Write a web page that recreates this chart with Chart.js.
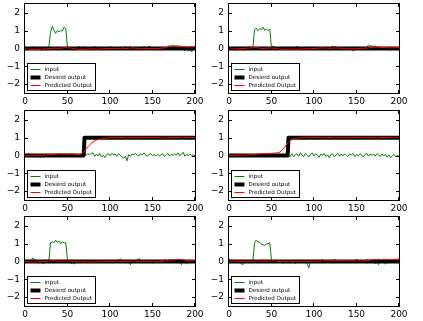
<!DOCTYPE html>
<html><head><meta charset="utf-8">
<script src="https://cdn.jsdelivr.net/npm/chart.js@4/dist/chart.umd.min.js"></script>
<style>
html,body{margin:0;padding:0;background:#fff;width:423px;height:321px;overflow:hidden;}
canvas{position:absolute;}
</style></head><body>
<canvas id="c0"></canvas><canvas id="c1"></canvas><canvas id="c2"></canvas>
<canvas id="c3"></canvas><canvas id="c4"></canvas><canvas id="c5"></canvas>
<script>
// ---------- tick labels ----------
const xTicks = [0, 50, 100, 150, 200];
const xTickLabels = ['0', '50', '100', '150', '200'];
const yTicks = [-2, -1, 0, 1, 2];
const yTickLabels = ['\u22122', '\u22121', '0', '1', '2'];
const seriesLabels = ['input', 'Desierd output', 'Predicted Output'];

// ---------- sample positions ----------
const inputStep = 2;   // input series sampled every 2 time steps (0..200)
const predStep = 5;    // predicted series sampled every 5 time steps (0..200)
const desiredX = [0, 69, 70, 200];

// ---------- desired outputs ----------
const desiredZero = [0, 0, 0, 0];
const desiredStep = [0, 0, 1, 1];

// ---------- inputs ----------
const input1 = [0.05,-0.05,0.02,-0.08,0.03,0.12,-0.04,-0.10,0.02,-0.06,
 -0.12,0.04,-0.03,-0.10,0.06,0.90,1.25,1.05,0.85,1.00,
 0.95,1.00,0.98,1.20,1.10,0.02,-0.05,0.04,-0.03,0.00,
 0.05,-0.06,0.14,-0.02,0.03,0.13,-0.04,0.02,-0.07,0.05,
 -0.02,0.14,0.00,0.06,-0.05,0.03,-0.08,0.04,0.01,-0.04,
 0.12,-0.03,0.05,-0.06,0.02,-0.02,0.07,-0.05,0.03,0.13,
 -0.04,0.02,0.14,-0.06,0.04,-0.02,0.05,-0.07,0.03,0.00,
 0.13,-0.05,0.04,0.15,-0.03,0.02,-0.06,0.05,-0.02,0.04,
 -0.04,0.06,0.00,0.05,0.10,0.18,0.12,0.20,0.08,0.15,
 0.05,0.10,-0.08,0.06,-0.12,0.03,-0.15,-0.05,-0.20,0.02,-0.10];
const input2 = [-0.08,0.03,-0.10,0.02,-0.12,0.12,-0.05,0.02,-0.10,0.04,
 -0.06,0.00,0.13,-0.04,0.02,1.05,1.15,1.00,1.12,1.05,
 1.20,1.02,1.10,1.00,1.08,0.03,0.15,-0.05,0.02,-0.03,
 0.04,-0.06,0.02,0.05,-0.04,0.01,-0.07,0.03,-0.02,0.00,
 0.14,-0.05,0.03,-0.08,0.02,0.06,-0.04,0.10,-0.03,0.02,
 -0.06,0.04,0.00,-0.03,0.05,-0.05,0.02,0.04,-0.02,0.01,
 0.06,0.14,0.08,0.12,-0.04,0.03,-0.07,0.02,0.05,-0.03,
 0.00,-0.06,0.04,-0.15,0.12,-0.02,0.03,-0.05,0.02,0.06,
 -0.03,0.05,0.20,0.12,0.18,0.08,0.15,0.04,0.10,-0.02,
 0.05,-0.04,0.08,0.00,0.04,-0.03,0.06,0.02,-0.01,0.03,0.00];
const input3 = [0.02,0.03,0.12,-0.05,0.04,-0.08,0.03,-0.10,-0.02,-0.12,
 0.02,-0.09,-0.04,0.05,-0.03,0.06,-0.02,0.08,0.00,-0.04,
 0.07,0.02,-0.05,0.04,0.09,0.01,-0.03,0.05,0.02,0.00,
 -0.02,0.04,0.06,-0.03,0.05,0.08,0.02,0.10,0.05,0.12,
 0.15,-0.05,0.08,-0.03,0.12,-0.08,0.02,-0.12,0.05,0.10,
 -0.02,0.12,0.04,0.08,-0.05,0.10,0.02,-0.08,-0.15,-0.04,
 -0.30,0.05,-0.05,0.08,0.03,0.12,0.02,-0.03,0.10,0.04,
 0.15,0.02,-0.03,0.06,0.10,0.00,0.05,-0.02,0.08,-0.04,
 0.04,0.10,-0.06,0.02,0.12,-0.03,0.06,0.00,0.08,0.02,
 0.15,-0.02,0.06,0.18,-0.04,0.05,0.00,0.08,-0.02,0.04,-0.02];
const input4 = [0.05,-0.03,0.08,-0.06,0.02,-0.04,0.06,0.00,-0.05,0.03,
 -0.02,0.05,-0.04,0.07,0.01,-0.03,0.04,0.08,-0.02,0.05,
 0.03,-0.04,0.06,0.02,0.09,0.00,-0.05,0.04,0.02,0.06,
 -0.03,0.05,0.02,-0.04,0.08,0.03,-0.06,0.10,-0.08,0.04,
 0.10,-0.05,0.15,0.02,-0.06,0.12,0.03,-0.08,0.06,0.14,
 -0.04,0.10,0.02,-0.10,0.08,0.00,0.12,-0.06,0.04,-0.12,
 0.06,0.10,-0.08,0.03,0.12,-0.05,0.08,-0.02,0.10,0.00,
 -0.05,0.08,0.03,0.12,-0.06,0.05,-0.02,0.10,0.02,-0.08,
 0.06,0.12,-0.04,0.08,0.02,0.05,-0.03,0.10,0.04,-0.06,
 0.08,-0.02,0.05,-0.10,0.04,-0.12,-0.03,0.06,-0.08,0.02,-0.04];
const input5 = [0.05,-0.03,0.08,0.02,0.15,0.20,-0.05,0.03,-0.10,0.02,
 -0.08,-0.12,0.04,-0.06,0.00,1.05,1.10,1.05,1.20,1.08,
 1.15,1.00,1.10,1.05,1.05,0.05,-0.02,-0.12,-0.05,-0.15,
 0.02,-0.08,0.04,-0.03,0.06,-0.05,0.02,-0.10,0.03,0.00,
 0.05,-0.04,0.02,-0.06,0.03,0.05,-0.08,0.02,-0.03,0.04,
 -0.02,0.03,0.06,-0.05,0.02,0.04,0.15,0.08,-0.03,0.02,
 -0.05,0.03,-0.18,0.02,0.05,-0.04,0.08,0.18,0.02,-0.06,
 0.03,-0.05,0.06,-0.03,0.04,-0.10,0.05,0.00,-0.06,0.03,
 0.02,-0.04,0.05,0.10,0.06,0.12,0.08,0.03,-0.06,0.05,
 -0.10,0.04,-0.18,0.02,0.06,-0.15,0.03,-0.04,0.05,-0.02,0.02];
const input6 = [0.15,0.05,-0.03,0.04,-0.08,0.02,0.06,-0.05,-0.20,0.02,
 -0.06,0.03,-0.04,0.02,-0.02,1.05,1.20,1.10,1.08,0.98,
 0.95,0.90,0.98,1.00,1.05,0.05,0.02,0.08,-0.04,0.03,
 -0.08,0.02,-0.12,0.05,-0.06,0.00,-0.10,0.04,-0.05,-0.12,
 0.03,-0.08,0.06,-0.02,-0.05,0.04,-0.15,-0.35,0.08,-0.04,
 0.03,-0.06,0.05,-0.02,0.04,0.12,-0.03,0.06,-0.05,0.02,
 0.08,-0.02,0.14,0.03,-0.06,0.05,0.00,0.08,-0.04,0.02,
 0.06,-0.03,0.04,-0.05,0.02,0.13,0.05,-0.04,0.03,0.06,
 -0.02,0.14,0.04,-0.08,0.06,0.02,-0.12,-0.04,-0.18,0.03,
 -0.06,0.05,-0.15,0.02,0.08,-0.03,0.04,-0.05,0.02,0.06,0.00];

// ---------- predicted outputs ----------
const pred1 = [-0.02,-0.04,-0.05,-0.06,-0.04,-0.02,0.00,0.02,0.01,0.03,
 0.05,0.01,-0.03,-0.05,-0.04,-0.03,-0.02,-0.04,-0.02,0.00,
 -0.01,0.01,-0.01,0.02,0.00,0.03,0.02,0.00,0.01,-0.01,
 0.00,0.00,0.02,0.05,0.10,0.15,0.14,0.12,0.08,0.09,0.10];
const pred2 = [-0.03,-0.02,-0.01,0.00,0.01,0.03,0.05,0.03,0.00,0.02,
 0.03,-0.01,-0.04,-0.05,-0.04,-0.03,-0.04,-0.03,-0.02,-0.02,
 0.00,0.02,0.03,0.02,0.01,0.03,0.02,0.00,-0.02,-0.01,
 0.00,0.01,0.02,0.04,0.06,0.07,0.06,0.05,0.04,0.05,0.05];
const pred3 = [0.00,-0.01,0.00,0.01,0.02,0.03,0.05,0.07,0.09,0.08,
 0.07,0.08,0.06,0.05,0.25,0.55,0.76,0.88,0.95,0.98,
 1.00,0.99,1.01,1.00,0.98,1.01,1.00,0.99,1.02,1.00,
 0.99,1.01,1.00,0.98,1.01,1.00,1.02,0.99,1.00,1.01,1.00];
const pred4 = [0.00,0.00,0.01,0.02,0.03,0.05,0.06,0.08,0.10,0.11,
 0.12,0.14,0.20,0.45,0.75,0.92,0.98,1.00,1.01,0.99,
 1.00,1.02,0.99,1.00,1.01,0.98,1.00,1.01,0.99,1.00,
 1.02,1.00,0.99,1.01,1.00,0.98,1.01,1.00,1.02,0.99,1.00];
const pred5 = [0.00,-0.02,-0.03,-0.02,-0.01,0.00,0.03,0.04,0.02,0.01,
 0.03,0.01,-0.02,-0.01,-0.02,-0.03,-0.02,-0.01,-0.02,0.00,
 -0.01,0.01,0.02,0.01,0.00,0.02,0.01,-0.01,0.00,-0.01,
 0.00,-0.02,0.00,0.03,0.07,0.10,0.12,0.10,0.06,0.05,0.06];
const pred6 = [0.00,0.02,0.01,0.00,-0.01,0.00,0.02,0.03,0.01,0.02,
 0.04,0.02,0.00,-0.01,0.00,-0.02,0.00,-0.01,0.01,0.00,
 0.02,0.01,0.03,0.04,0.03,0.05,0.06,0.05,0.04,0.05,
 0.03,0.04,0.05,0.07,0.10,0.12,0.10,0.12,0.10,0.12,0.14];

// ---------- panels ----------
const panels = [
  {inp: input1, des: desiredZero, pred: pred1},
  {inp: input2, des: desiredZero, pred: pred2},
  {inp: input3, des: desiredStep, pred: pred3},
  {inp: input4, des: desiredStep, pred: pred4},
  {inp: input5, des: desiredZero, pred: pred5},
  {inp: input6, des: desiredZero, pred: pred6}
];
const colLeft = [25, 229];
const rowTop = [4, 111, 217];
const PAD_L = 25, PAD_T = 4, PLOT_W = 170, PLOT_H = 89, XAX_H = 15, PAD_R = 16;
const FONT = 'DejaVu Sans';

const framePlugin = {
  id: 'frame',
  afterDatasetsDraw(chart) {
    const {ctx, chartArea: a, scales} = chart;
    ctx.save();
    ctx.strokeStyle = '#000';
    ctx.lineWidth = 1;
    const L = a.left - 0.5, R = a.right + 0.5, T = a.top - 0.5, B = a.bottom + 0.5;
    ctx.beginPath();
    const tl = 3.5;
    scales.x.ticks.forEach(t => {
      const px = Math.round(scales.x.getPixelForValue(t.value)) - 0.5;
      ctx.moveTo(px, B); ctx.lineTo(px, B - tl);
      ctx.moveTo(px, T); ctx.lineTo(px, T + tl);
    });
    scales.y.ticks.forEach(t => {
      const py = Math.round(scales.y.getPixelForValue(t.value)) + 0.5;
      ctx.moveTo(L, py); ctx.lineTo(L + tl, py);
      ctx.moveTo(R, py); ctx.lineTo(R - tl, py);
    });
    ctx.stroke();
    ctx.strokeRect(L, T, R - L, B - T);
    // legend box
    const bx = Math.round(a.left) + 2.5, bw = 68, bh = 27;
    const by = Math.round(a.bottom) - 29.5;
    ctx.fillStyle = '#fff';
    ctx.fillRect(bx, by, bw, bh);
    ctx.strokeRect(bx, by, bw, bh);
    const ds = chart.data.datasets;
    const rowsY = [6, 14, 22];
    ctx.font = '5.6px "' + FONT + '"';
    ctx.textBaseline = 'middle';
    ctx.textAlign = 'left';
    ds.forEach((d, i) => {
      const y = by + rowsY[i];
      ctx.beginPath();
      ctx.strokeStyle = d.borderColor;
      ctx.lineWidth = d.borderWidth;
      ctx.moveTo(bx + 3, y); ctx.lineTo(bx + 13, y);
      ctx.stroke();
      ctx.fillStyle = '#000';
      ctx.fillText(d.label, bx + 17, y + 0.3);
    });
    ctx.restore();
  }
};

panels.forEach((p, k) => {
  const r = Math.floor(k / 2), c = k % 2;
  const cv = document.getElementById('c' + k);
  const W = PAD_L + PLOT_W + PAD_R, H = PAD_T + PLOT_H + XAX_H;
  cv.width = W; cv.height = H;
  cv.style.left = (colLeft[c] - PAD_L) + 'px';
  cv.style.top = (rowTop[r] - PAD_T) + 'px';
  cv.style.width = W + 'px'; cv.style.height = H + 'px';
  const inpData = p.inp.map((v, i) => ({x: i * inputStep, y: v}));
  const desData = p.des.map((v, i) => ({x: desiredX[i], y: v}));
  const predData = p.pred.map((v, i) => ({x: i * predStep, y: v}));
  new Chart(cv, {
    type: 'line',
    data: {
      datasets: [
        {label: seriesLabels[0], data: inpData, borderColor: '#008000', borderWidth: 1, order: 3, tension: 0},
        {label: seriesLabels[1], data: desData, borderColor: '#000000', borderWidth: 4, order: 2, tension: 0},
        {label: seriesLabels[2], data: predData, borderColor: '#ff0000', borderWidth: 1, order: 1, cubicInterpolationMode: 'monotone'}
      ]
    },
    options: {
      responsive: false, animation: false, devicePixelRatio: 1,
      layout: {padding: {left: 0, top: PAD_T, right: PAD_R, bottom: 0}},
      plugins: {legend: {display: false}, tooltip: {enabled: false}},
      elements: {point: {radius: 0}, line: {borderCapStyle: 'butt', borderJoinStyle: 'round', fill: false}},
      scales: {
        x: {
          type: 'linear', min: 0, max: 200,
          grid: {display: false, drawTicks: false}, border: {display: false},
          afterBuildTicks: s => { s.ticks = xTicks.map(v => ({value: v})); },
          afterFit: s => { s.height = XAX_H; s.paddingLeft = 0; s.paddingRight = 0; s.paddingTop = 0; s.paddingBottom = 0; },
          ticks: {padding: 3, color: '#000', font: {family: FONT, size: 9}, maxRotation: 0, autoSkip: false,
                  callback: v => xTickLabels[xTicks.indexOf(v)]}
        },
        y: {
          type: 'linear', min: -2.5, max: 2.5,
          grid: {display: false, drawTicks: false}, border: {display: false},
          afterBuildTicks: s => { s.ticks = yTicks.map(v => ({value: v})); },
          afterFit: s => { s.width = PAD_L; s.paddingTop = 0; s.paddingBottom = 0; s.paddingLeft = 0; s.paddingRight = 0; },
          ticks: {padding: 5, color: '#000', font: {family: FONT, size: 9}, autoSkip: false,
                  callback: v => yTickLabels[yTicks.indexOf(v)]}
        }
      }
    },
    plugins: [framePlugin]
  });
});
</script>
</body></html>
